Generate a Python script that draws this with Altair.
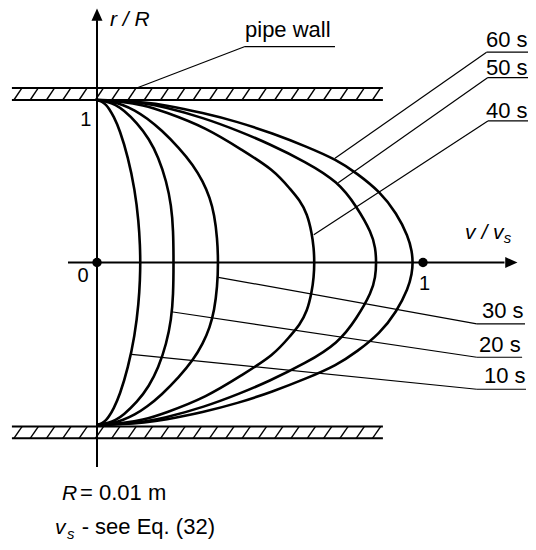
import altair as alt
import pandas as pd
import numpy as np

# ---- velocity profiles (upper half, r/R from wall to axis; mirrored below) ----
TIMES = ["10 s", "20 s", "30 s", "40 s", "50 s", "60 s"]
R10 = [1.0, 0.99, 0.97, 0.95, 0.90, 0.815, 0.65, 0.45, 0.25, 0.10, 0.0]
V10 = [0.0, 0.016, 0.028, 0.036, 0.051, 0.070, 0.095, 0.116, 0.128, 0.132, 0.133]
R20 = [1.0, 0.99, 0.97, 0.94, 0.86, 0.76, 0.65, 0.50, 0.35, 0.20, 0.0]
V20 = [0.0, 0.033, 0.057, 0.080, 0.123, 0.160, 0.188, 0.213, 0.228, 0.234, 0.235]
R30 = [1.0, 0.99, 0.97, 0.938, 0.889, 0.815, 0.705, 0.60, 0.499, 0.40, 0.294, 0.15, 0.0]
V30 = [0.0, 0.046, 0.080, 0.115, 0.153, 0.198, 0.252, 0.295, 0.325, 0.346, 0.360, 0.369, 0.372]
R40 = [1.0, 0.99, 0.97, 0.93, 0.828, 0.692, 0.569, 0.446, 0.385, 0.30, 0.18, 0.09, 0.0]
V40 = [0.0, 0.080, 0.140, 0.205, 0.337, 0.445, 0.543, 0.595, 0.621, 0.645, 0.659, 0.665, 0.667]
R50 = [1.0, 0.99, 0.98, 0.961, 0.889, 0.805, 0.733, 0.62, 0.497, 0.343, 0.18, 0.09, 0.0]
V50 = [0.0, 0.100, 0.142, 0.200, 0.330, 0.440, 0.525, 0.640, 0.740, 0.797, 0.843, 0.854, 0.857]
R60 = [1.0, 0.995, 0.985, 0.971, 0.92, 0.867, 0.795, 0.713, 0.631, 0.549, 0.436, 0.303, 0.159, 0.069, 0.0]
V60 = [0.0, 0.083, 0.145, 0.204, 0.327, 0.430, 0.538, 0.643, 0.736, 0.797, 0.868, 0.919, 0.955, 0.966, 0.969]

# leader lines: (v, r) on curve -> (v, r) at label, then underline end v
LEAD_T = ["60 s", "50 s", "40 s", "30 s", "20 s", "10 s"]
LEAD_V0 = [0.730, 0.740, 0.665, 0.372, 0.228, 0.106]
LEAD_R0 = [0.641, 0.491, 0.171, -0.091, -0.303, -0.565]
LEAD_V1 = [1.195, 1.199, 1.199, 1.165, 1.165, 1.165]
LEAD_R1 = [1.294, 1.138, 0.871, -0.378, -0.583, -0.780]
LEAD_VEND = [1.36, 1.36, 1.36, 1.313, 1.304, 1.316]
LABEL_V = [1.193, 1.193, 1.193, 1.181, 1.172, 1.187]
LABEL_R = [1.328, 1.154, 0.887, -0.343, -0.549, -0.742]

# pipe wall annotation
PW_V = [0.122, 0.454, 0.730]
PW_R = [1.074, 1.329, 1.329]

# pipe walls
WALL_V = [-0.261, 0.877]
WALL_TOP = [1.0, 1.074]
WALL_BOT = [-1.01, -1.082]
HATCH = list(np.arange(-0.255, 0.85, 0.05))

xs = alt.Scale(domain=[-0.27301, 1.32209], nice=False, zero=False)
ys = alt.Scale(domain=[-1.72000, 1.56615], nice=False, zero=False)
X = lambda f="v": alt.X(f"{f}:Q", scale=xs, axis=None)
Y = lambda f="r": alt.Y(f"{f}:Q", scale=ys, axis=None)

# curves
rows = []
for t, R, V in zip(TIMES, [R10, R20, R30, R40, R50, R60], [V10, V20, V30, V40, V50, V60]):
    k = 0
    for r, v in zip(R, V):
        rows.append(dict(t=t, v=v, r=r, o=k)); k += 1
    for r, v in list(zip(R, V))[-2::-1]:
        rows.append(dict(t=t, v=v, r=-r, o=k)); k += 1
curves_df = pd.DataFrame(rows)
curves = alt.Chart(curves_df).mark_line(
    interpolate="basis", color="black", strokeWidth=2.6
).encode(x=X(), y=Y(), detail="t:N", order="o:Q")

# walls
wl = []
for r in WALL_TOP + WALL_BOT:
    wl.append(dict(v=WALL_V[0], v2=WALL_V[1], r=r, r2=r))
walls = alt.Chart(pd.DataFrame(wl)).mark_rule(color="black", strokeWidth=2).encode(
    x=X(), x2="v2:Q", y=Y(), y2="r2:Q")
hl = []
for h in HATCH:
    hl.append(dict(v=h, v2=h + 0.025, r=WALL_TOP[0], r2=WALL_TOP[1]))
    hl.append(dict(v=h, v2=h + 0.025, r=WALL_BOT[1], r2=WALL_BOT[0]))
hatch = alt.Chart(pd.DataFrame(hl)).mark_rule(color="black", strokeWidth=1.4).encode(
    x=X(), x2="v2:Q", y=Y(), y2="r2:Q")

# axes
ax_df = pd.DataFrame([
    dict(v=0.0, v2=0.0, r=-1.258, r2=1.49),
    dict(v=-0.089, v2=1.25, r=0.0, r2=0.0),
])
axes = alt.Chart(ax_df).mark_rule(color="black", strokeWidth=2).encode(
    x=X(), x2="v2:Q", y=Y(), y2="r2:Q")
arr_up = alt.Chart(pd.DataFrame([dict(v=0.0, r=1.526)])).mark_point(
    shape="M0,-1L0.9,1L-0.9,1Z", filled=True, size=150, color="black", opacity=1, strokeWidth=0
).encode(x=X(), y=Y())
arr_rt = alt.Chart(pd.DataFrame([dict(v=1.271, r=0.0)])).mark_point(
    shape="M1,0L-1,0.9L-1,-0.9Z", filled=True, size=150, color="black", opacity=1, strokeWidth=0
).encode(x=X(), y=Y())
dots = alt.Chart(pd.DataFrame([dict(v=0.0, r=0.0), dict(v=1.0, r=0.0)])).mark_circle(
    size=90, color="black", opacity=1).encode(x=X(), y=Y())

# leaders
ll = []
for i in range(len(LEAD_T)):
    ll.append(dict(v=LEAD_V0[i], r=LEAD_R0[i], v2=LEAD_V1[i], r2=LEAD_R1[i]))
    ll.append(dict(v=LEAD_V1[i], r=LEAD_R1[i], v2=LEAD_VEND[i], r2=LEAD_R1[i]))
ll.append(dict(v=PW_V[0], r=PW_R[0], v2=PW_V[1], r2=PW_R[1]))
ll.append(dict(v=PW_V[1], r=PW_R[1], v2=PW_V[2], r2=PW_R[2]))
leaders = alt.Chart(pd.DataFrame(ll)).mark_rule(color="black", strokeWidth=1.2).encode(
    x=X(), x2="v2:Q", y=Y(), y2="r2:Q")

FONT = "Liberation Sans"
def txt(df, size, style="normal", align="left"):
    return alt.Chart(pd.DataFrame(df)).mark_text(
        font=FONT, fontSize=size, fontStyle=style, align=align, baseline="alphabetic", color="black"
    ).encode(x=X(), y=Y(), text="text:N")

labels = txt([dict(v=LABEL_V[i], r=LABEL_R[i], text=LEAD_T[i]) for i in range(len(LEAD_T))]
             + [dict(v=0.454, r=1.388, text="pipe wall"),
                dict(v=-0.052, r=-1.462, text="= 0.01 m"),
                dict(v=-0.047, r=-1.6738, text="- see Eq. (32)")], 22)
ital = txt([dict(v=0.040, r=1.455, text="r / R"),
            dict(v=1.129, r=0.145, text="v / v"),
            dict(v=-0.107, r=-1.462, text="R"),
            dict(v=-0.129, r=-1.6738, text="v")], 21, "italic")
subs = txt([dict(v=1.248, r=0.117, text="s"),
            dict(v=-0.092, r=-1.700, text="s")], 15, "italic")
nums = txt([dict(v=-0.043, r=-0.120, text="0"),
            dict(v=-0.034, r=0.840, text="1"),
            dict(v=1.005, r=-0.169, text="1")], 20, "normal", "center")

chart = alt.layer(
    walls, hatch, axes, arr_up, arr_rt, curves, leaders, dots, labels, ital, subs, nums
).properties(
    width=520, height=534, autosize=alt.AutoSizeParams(type="none"), padding=0,
    background="white"
).configure_view(stroke=None)

chart.save("out.html", embed_options={"renderer": "svg", "actions": False})
